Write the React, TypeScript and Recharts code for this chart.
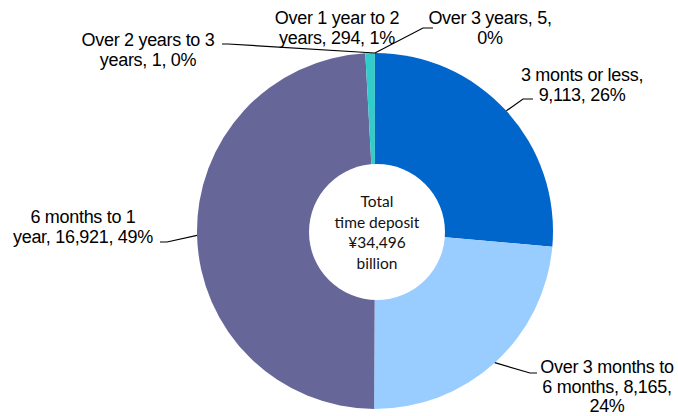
import { PieChart, Pie, Cell } from 'recharts';

const names = [
  '3 monts or less',
  'Over 3 months to 6 months',
  '6 months to 1 year',
  'Over 1 year to 2 years',
  'Over 2 years to 3 years',
  'Over 3 years',
];
const values = [9113, 8165, 16921, 294, 1, 5];
const colors = ['#0066CC', '#99CCFF', '#666699', '#33CCCC', '#339966', '#2E8B7A'];
// words per label line
const wordsPerLine = [[4, 2], [4, 3, 1], [4, 3], [5, 3], [5, 3], [4, 1]];
const centerLines = ['Total', 'time deposit', '\u00a534,496', 'billion'];

const total = values.reduce((a, b) => a + b, 0);
const data = names.map((name, i) => ({ name, value: values[i] }));

// label placement relative to pie centre
const labelLayout = [
  { tx: 207, ty: -150, elbow: [148, -132], end: [158, -132] },
  { tx: 232, ty: 142, elbow: [155, 142], end: [162, 142] },
  { tx: -292, ty: -8, elbow: [-208, 11], end: [-215, 11] },
  { tx: -38, ty: -207, elbow: null, end: null },
  { tx: -227, ty: -185, elbow: [-147, -187], end: [-153, -187] },
  { tx: 115, ty: -207, elbow: [48, -203], end: [58, -203] },
];

const RADIAN = Math.PI / 180;

function splitLines(text: string, counts: number[]) {
  const words = text.split(' ');
  const out: string[] = [];
  let p = 0;
  counts.forEach((c) => {
    out.push(words.slice(p, p + c).join(' '));
    p += c;
  });
  return out;
}

function renderLabel(props: any) {
  const { cx, cy, midAngle, outerRadius, index, name, value } = props;
  const lay = labelLayout[index];
  const pct = Math.round((value / total) * 100);
  const full = `${name}, ${value.toLocaleString('en-US')}, ${pct}%`;
  const lines = splitLines(full, wordsPerLine[index]);
  const sx = cx + outerRadius * Math.cos(-midAngle * RADIAN);
  const sy = cy + outerRadius * Math.sin(-midAngle * RADIAN);
  return (
    <g key={`lbl-${index}`}>
      {lay.elbow && (
        <polyline
          points={`${sx},${sy} ${cx + lay.elbow[0]},${cy + lay.elbow[1]} ${cx + lay.end![0]},${cy + lay.end![1]}`}
          fill="none"
          stroke="#000"
          strokeWidth={1.2}
        />
      )}
      <text
        x={cx + lay.tx}
        y={cy + lay.ty}
        textAnchor="middle"
        fontFamily="'Liberation Sans', Arial, sans-serif"
        fontSize={18}
        letterSpacing={-0.3}
        fill="#000"
      >
        {lines.map((l, i) => (
          <tspan key={i} x={cx + lay.tx} dy={i === 0 ? 0 : 19.5}>
            {l}
          </tspan>
        ))}
      </text>
    </g>
  );
}

export default function App() {
  return (
    <div style={{ position: 'absolute', left: 0, top: 0, width: 678, height: 416, background: '#fff' }}>
      <PieChart width={678} height={416} margin={{ top: 0, right: 0, bottom: 0, left: 0 }}>
        <Pie
          data={data}
          dataKey="value"
          nameKey="name"
          cx={375}
          cy={231}
          outerRadius={178}
          innerRadius={0}
          startAngle={90}
          endAngle={-270}
          stroke="none"
          label={renderLabel}
          labelLine={false}
          isAnimationActive={false}
        >
          {data.map((d, i) => (
            <Cell key={d.name} fill={colors[i]} />
          ))}
        </Pie>
      </PieChart>
      <div
        style={{
          position: 'absolute',
          left: 377 - 68,
          top: 232 - 68,
          width: 136,
          height: 136,
          borderRadius: '50%',
          background: '#fff',
          display: 'flex',
          flexDirection: 'column',
          alignItems: 'center',
          justifyContent: 'center',
          fontFamily: 'Lato, sans-serif',
          fontSize: 15.5,
          lineHeight: '20.5px',
          color: '#111',
          textAlign: 'center',
        }}
      >
        {centerLines.map((l) => (
          <div key={l}>{l}</div>
        ))}
      </div>
    </div>
  );
}
